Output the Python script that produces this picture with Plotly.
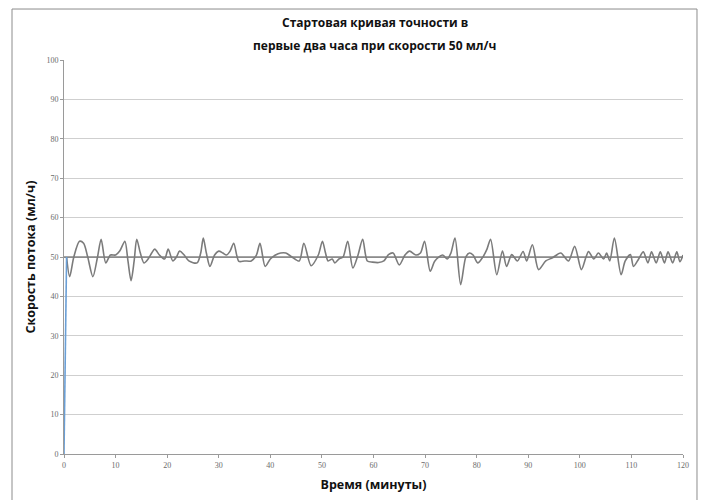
import plotly.graph_objects as go

# Measured flow rate (minutes, ml/h)
time_min = [0.5, 1.1, 1.9, 3.0, 3.8, 4.6, 5.6, 6.5, 7.2, 8.1, 9.0, 10.0, 10.8, 11.8, 12.4, 13.0, 13.6, 14.1,
            14.8, 15.5, 16.3, 17.0, 17.6, 18.5, 19.5, 20.2, 21.1, 21.8, 22.4, 23.3,
            24.2, 25.8, 26.5, 27.0, 27.6, 28.3, 29.2, 30.0, 30.8, 31.5, 32.2, 32.9, 33.9, 35.0, 36.3,
            37.3, 38.0, 39.0, 40.0, 41.0, 42.0, 43.0, 44.2, 45.6, 46.5, 47.9,
            49.3, 50.1, 50.7, 51.2, 52.0, 52.5, 53.3, 54.1, 55.0, 56.0, 57.0, 57.9, 58.8, 59.8,
            61.0, 62.0, 62.9, 63.8, 65.0, 66.1, 67.0, 68.2, 69.1, 69.9, 71.0, 71.9,
            73.4, 74.3, 75.0, 75.8, 76.9, 77.9, 78.6, 79.3, 80.2, 81.2, 82.0, 82.7, 83.9, 85.0,
            85.8, 86.8, 87.9, 89.0, 89.7, 90.8, 92.0, 93.4, 94.7, 96.3,
            97.8, 99.0, 100.3, 101.2, 101.7, 102.7, 103.6, 104.6, 105.2, 105.8, 106.7, 108.0,
            108.8, 109.8, 110.4, 111.4, 112.3, 113.2, 113.9, 114.8, 115.6, 116.4, 117.1, 118.0,
            118.8, 119.4, 120.0]
flow_ml_h = [50, 45, 50, 54, 53.5, 50, 45, 50, 54.5, 48.5, 50.5, 50.5, 51.5, 54, 49, 44, 49, 54.5,
             51, 48.5, 49.5, 51, 52, 50.5, 49.5, 52, 49, 50, 51.5, 50.5,
             49, 48.5, 51, 54.8, 51, 47.6, 50.5, 51.5, 51, 50.5, 51.5, 53.5, 48.9, 49, 49,
             50.5, 53.5, 47.6, 49.5, 50.5, 51, 51, 50, 49, 53.5, 47.8,
             50.5, 54, 51, 49, 49.5, 48.5, 49.5, 50, 54, 47.2, 50.5, 54.5, 49, 48.7,
             48.6, 49, 50.6, 51, 48, 50.5, 51.5, 50.5, 51, 54, 46.4, 49,
             50.5, 49.5, 51, 54.8, 43, 50, 51, 50.5, 48.5, 50, 52, 54.5, 45.5, 51.5,
             47.6, 50.6, 49, 51.4, 49, 53.1, 46.8, 49, 49.8, 51,
             49, 52.7, 46.8, 50, 51.4, 49.5, 51, 49.5, 51, 49, 54.8, 45.5,
             49, 50.6, 47.6, 49.5, 51.3, 48.5, 51.3, 48.5, 51.3, 48.5, 51.3, 48.5,
             51.3, 48.8, 50.5]

# Target (set) rate
target_time = [0, 120]
target_rate = [50, 50]

# Start-up ramp
ramp_time = [0, 0.5]
ramp_rate = [0, 50]

x_ticks = list(range(0, 121, 10))
y_ticks = list(range(0, 101, 10))

title_line1 = "Стартовая кривая точности в"
title_line2 = "первые два часа при скорости 50 мл/ч"

fig = go.Figure()
fig.add_trace(go.Scatter(x=target_time, y=target_rate, mode="lines",
                         line=dict(color="#4a4a4a", width=1.2), hoverinfo="skip"))
fig.add_trace(go.Scatter(x=time_min, y=flow_ml_h, mode="lines",
                         line=dict(color="#7b7b7b", width=1.6, shape="spline", smoothing=0.8)))
fig.add_trace(go.Scatter(x=ramp_time, y=ramp_rate, mode="lines",
                         line=dict(color="#6a9fd6", width=1.6)))

tick_font = dict(family="Liberation Serif, DejaVu Serif", size=8, color="#6b6b6b")
title_font = dict(family="Open Sans", size=12, color="#111111", weight="bold")

fig.update_layout(
    width=699, height=492,
    margin=dict(l=56, r=24, t=52, b=46),
    paper_bgcolor="white", plot_bgcolor="white",
    showlegend=False,
    xaxis=dict(range=[0, 120], tickvals=x_ticks, showgrid=False, zeroline=False,
               showline=True, linecolor="#9a9a9a", linewidth=1,
               ticks="outside", ticklen=3, tickcolor="#9a9a9a",
               tickfont=tick_font,
               title=dict(text="Время (минуты)", standoff=11,
                          font=dict(family="Open Sans", size=12.5, color="#111111", weight="bold"))),
    yaxis=dict(range=[0, 100], tickvals=y_ticks, showgrid=True, gridcolor="#cfcfcf", gridwidth=1,
               zeroline=False, showline=True, linecolor="#9a9a9a", linewidth=1,
               ticks="outside", ticklen=3, tickcolor="#9a9a9a",
               tickfont=tick_font,
               title=dict(text="Скорость потока (мл/ч)", standoff=8,
                          font=dict(family="Open Sans", size=12.5, color="#111111", weight="bold"))),
    annotations=[
        dict(text=title_line1, xref="paper", yref="paper", x=0.502, y=1.0964,
             xanchor="center", yanchor="middle", showarrow=False, font=title_font),
        dict(text=title_line2, xref="paper", yref="paper", x=0.502, y=1.038,
             xanchor="center", yanchor="middle", showarrow=False, font=title_font),
    ],
    shapes=[dict(type="rect", xref="paper", yref="paper",
                 x0=-0.084, x1=1.0226, y0=-0.14, y1=1.1294,
                 line=dict(color="#8c8c8c", width=1), fillcolor="rgba(0,0,0,0)", layer="above")],
)

fig.write_html("out.html")
